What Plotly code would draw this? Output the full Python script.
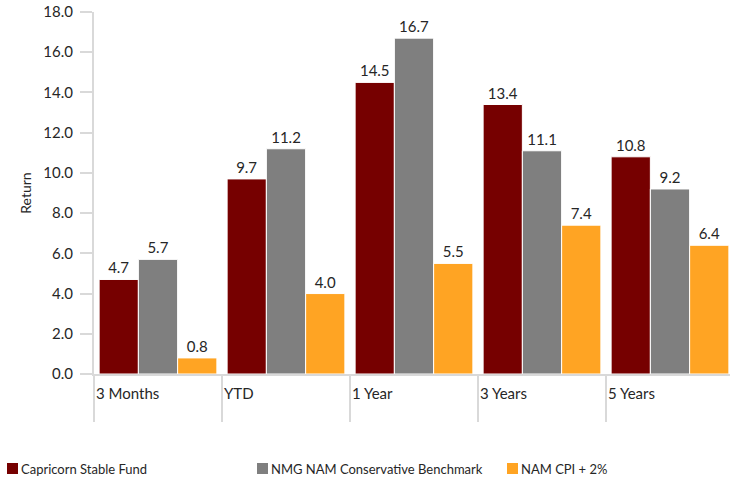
import plotly.graph_objects as go

categories = ["3 Months", "YTD", "1 Year", "3 Years", "5 Years"]
fund = [4.7, 9.7, 14.5, 13.4, 10.8]
benchmark = [5.7, 11.2, 16.7, 11.1, 9.2]
cpi = [0.8, 4.0, 5.5, 7.4, 6.4]
series_names = ["Capricorn Stable Fund", "NMG NAM Conservative Benchmark", "NAM CPI + 2%"]
y_ticks = [0, 2, 4, 6, 8, 10, 12, 14, 16, 18]

colors = ["#760000", "#7f7f7f", "#ffa423"]
FONT = "Lato, 'Open Sans', sans-serif"
TEXT = "#262626"
AXIS = "#d9d9d9"

W, H = 730, 480
ML, MR, MT, MB = 94, 0, 12, 106
PW, PH = W - ML - MR, H - MT - MB


def px_x(px):
    return (px - ML) / PW


def px_y(py):
    return 1 - (py - MT) / PH


positions = list(range(len(categories)))

fig = go.Figure()
for name, vals, col in zip(series_names, [fund, benchmark, cpi], colors):
    fig.add_trace(go.Bar(
        x=positions, y=vals, name=name,
        marker=dict(color=col, line=dict(color="white", width=1)),
        text=[f"{v:.1f}" for v in vals], textposition="outside",
        textfont=dict(size=15, color=TEXT, family=FONT),
        cliponaxis=False, showlegend=False,
    ))

# category labels, left-aligned at each category boundary
for i, c in enumerate(categories):
    fig.add_annotation(x=i - 0.5, y=0, xref="x", yref="y", text=c,
                       showarrow=False, xanchor="left", yanchor="top",
                       yshift=-8, font=dict(size=15, color=TEXT, family=FONT))

# legend row along the bottom: square swatch followed by the series name
legend_left = [7, 257, 507]
for left, name, col in zip(legend_left, series_names, colors):
    fig.add_shape(type="rect", xref="paper", yref="paper",
                  x0=px_x(left), x1=px_x(left + 11),
                  y0=px_y(474), y1=px_y(463),
                  fillcolor=col, line=dict(width=0))
    fig.add_annotation(x=px_x(left + 12), y=px_y(468.5), xref="paper", yref="paper",
                       text=name, showarrow=False, xanchor="left", yanchor="middle",
                       font=dict(size=13, color=TEXT, family=FONT))

fig.update_layout(
    width=W, height=H,
    margin=dict(l=ML, r=MR, t=MT, b=MB),
    paper_bgcolor="white", plot_bgcolor="white",
    barmode="group", bargap=0.08, bargroupgap=0,
    font=dict(family=FONT, color=TEXT),
    showlegend=False,
    xaxis=dict(range=[-0.5, -0.5 + PW / 128], tickmode="array",
               tickvals=[p - 0.5 for p in positions] + [len(categories) - 0.5],
               ticktext=[""] * (len(categories) + 1),
               ticks="outside", ticklen=46, tickwidth=2, tickcolor=AXIS,
               showline=True, linecolor=AXIS, linewidth=2,
               showgrid=False, zeroline=False, fixedrange=True),
    yaxis=dict(range=[0, 18], tickmode="array", tickvals=y_ticks,
               ticktext=[f"{t:.1f}" for t in y_ticks],
               ticks="outside", ticklen=12, tickwidth=2, tickcolor=AXIS,
               showline=True, linecolor=AXIS, linewidth=2,
               showgrid=False, zeroline=False, ticklabelstandoff=4,
               tickfont=dict(size=15, color=TEXT, family=FONT),
               title=dict(text="Return", font=dict(size=14, color=TEXT, family=FONT),
                          standoff=8)),
)

fig.write_html("out.html")
